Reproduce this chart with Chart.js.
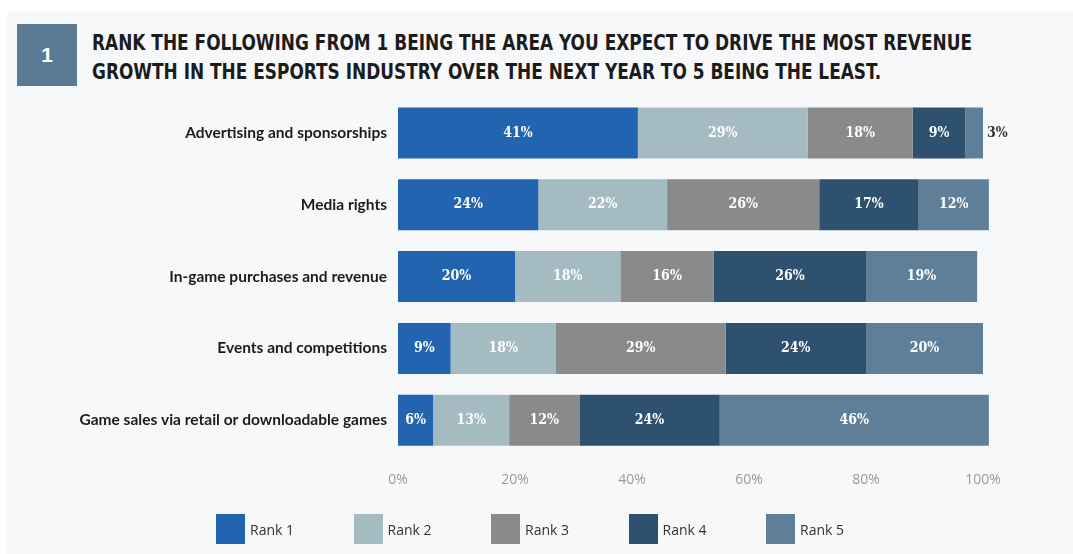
<!DOCTYPE html>
<html>
<head>
<meta charset="utf-8">
<title>Esports revenue growth ranking</title>
<script src="https://cdn.jsdelivr.net/npm/chart.js@4.4.1/dist/chart.umd.min.js"></script>
<style>
  html, body { margin: 0; padding: 0; background: #fff; }
  body { width: 1073px; height: 554px; position: relative; overflow: hidden; }
  .panel { position: absolute; left: 7px; top: 12px; right: 0; bottom: 0; background: #f7f8fa; }
  .num {
    position: absolute; left: 17px; top: 24px; width: 60px; height: 62px;
    background: #5b7a96; color: #fff;
    font: bold 21px "Liberation Sans", "DejaVu Sans", sans-serif;
    display: flex; align-items: center; justify-content: center;
  }
  .title {
    position: absolute; left: 92px; top: 29px; white-space: nowrap;
    font: bold 21px "Liberation Sans Narrow", "DejaVu Sans Condensed", sans-serif;
    line-height: 29px; color: #1c1c1c; transform-origin: 0 0;
  }
  #chartWrap { position: absolute; left: 0; top: 0; width: 1073px; height: 554px; }
  #legend {
    position: absolute; left: 216px; top: 514px; display: flex;
    font: 14px "Open Sans", sans-serif; color: #333;
  }
  #legend .item { width: 137.5px; display: flex; align-items: center; }
  #legend .box { width: 29px; height: 30px; margin-right: 5px; }
</style>
</head>
<body>
<div class="panel"></div>
<div class="num">1</div>
<div class="title" id="title">RANK THE FOLLOWING FROM 1 BEING THE AREA YOU EXPECT TO DRIVE THE MOST REVENUE<br>GROWTH IN THE ESPORTS INDUSTRY OVER THE NEXT YEAR TO 5 BEING THE LEAST.</div>
<div id="chartWrap"><canvas id="rankChart" width="1073" height="554"></canvas></div>
<div id="legend"></div>

<script>
// categories (top to bottom)
const categories = [
  "Advertising and sponsorships",
  "Media rights",
  "In-game purchases and revenue",
  "Events and competitions",
  "Game sales via retail or downloadable games",
];

// share of respondents per rank, same order as categories
const rank1 = [41, 24, 20, 9, 6];
const rank2 = [29, 22, 18, 18, 13];
const rank3 = [18, 26, 16, 29, 12];
const rank4 = [9, 17, 26, 24, 24];
const rank5 = [3, 12, 19, 20, 46];

const rankLabels = ["Rank 1", "Rank 2", "Rank 3", "Rank 4", "Rank 5"];
const rankColors = ["#2264b0", "#a5bbc2", "#898b8a", "#2e5170", "#5f7e97"];

const xTicks = [0, 20, 40, 60, 80, 100];

// squeeze the heading so the long first line fits the panel
const titleEl = document.getElementById("title");
const titleWidth = titleEl.getBoundingClientRect().width;
titleEl.style.transform = "scaleX(" + 880 / titleWidth + ")";

// =========================
// Labels inside the bars
// =========================

const barValueLabels = {
  id: "barValueLabels",
  afterDatasetsDraw(chart) {
    const ctx = chart.ctx;
    ctx.save();
    ctx.font = "bold 14px 'DejaVu Serif Condensed', 'DejaVu Serif', serif";
    ctx.textBaseline = "middle";
    chart.data.datasets.forEach((ds, i) => {
      const meta = chart.getDatasetMeta(i);
      meta.data.forEach((bar, j) => {
        const v = ds.data[j];
        const text = v + "%";
        if (v < 5) {
          // too narrow, put it after the bar end
          ctx.fillStyle = "#333";
          ctx.textAlign = "left";
          ctx.fillText(text, bar.x + 4, bar.y);
        } else {
          ctx.fillStyle = "#fff";
          ctx.textAlign = "center";
          ctx.fillText(text, (bar.x + bar.base) / 2, bar.y);
        }
      });
    });
    ctx.restore();
  },
};

// =========================
// Chart
// =========================

const seriesValues = [rank1, rank2, rank3, rank4, rank5];

const chart = new Chart(document.getElementById("rankChart"), {
  type: "bar",
  data: {
    labels: categories,
    datasets: seriesValues.map((values, i) => ({
      label: rankLabels[i],
      data: values,
      backgroundColor: rankColors[i],
      borderWidth: 0,
      barPercentage: 0.71,
      categoryPercentage: 1,
      clip: false,
    })),
  },
  options: {
    indexAxis: "y",
    responsive: false,
    animation: false,
    layout: { padding: { top: 97, right: 90, bottom: 51, left: 0 } },
    plugins: {
      legend: { display: false },
      tooltip: { enabled: false },
    },
    scales: {
      x: {
        stacked: true,
        min: 0,
        max: 100,
        afterBuildTicks: (scale) => {
          scale.ticks = xTicks.map((v) => ({ value: v }));
        },
        ticks: {
          callback: (v) => v + "%",
          color: "#9a9a9a",
          font: { family: "'Open Sans', sans-serif", size: 14 },
          padding: 15,
        },
        grid: { display: false, drawTicks: false },
        border: { display: false },
      },
      y: {
        stacked: true,
        afterFit: (scale) => {
          scale.width = 398;
        },
        ticks: {
          color: "#1c1c1c",
          font: { family: "Lato, sans-serif", size: 15.5, weight: "bold" },
          padding: 11,
        },
        grid: { display: false, drawTicks: false },
        border: { display: false },
      },
    },
  },
  plugins: [barValueLabels],
});

// =========================
// Legend
// =========================

const legendEl = document.getElementById("legend");
chart.options.plugins.legend.labels.generateLabels(chart).forEach((item) => {
  const row = document.createElement("div");
  row.className = "item";
  const box = document.createElement("span");
  box.className = "box";
  box.style.background = item.fillStyle;
  const text = document.createElement("span");
  text.textContent = item.text;
  row.appendChild(box);
  row.appendChild(text);
  legendEl.appendChild(row);
});
</script>
</body>
</html>
